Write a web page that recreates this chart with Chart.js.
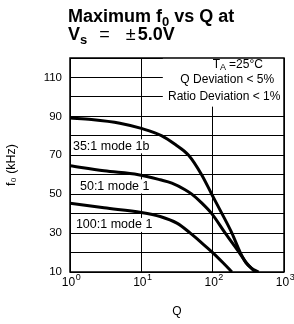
<!DOCTYPE html>
<html>
<head>
<meta charset="utf-8">
<script src="https://cdn.jsdelivr.net/npm/chart.js@4.4.1/dist/chart.umd.min.js"></script>
<style>
  html, body { margin: 0; padding: 0; background: #fff; }
  #wrap { position: relative; width: 294px; height: 324px; }
  .title { position: absolute; left: 68px; font: bold 18px "Liberation Sans", Arial, sans-serif; line-height: 18px; color: #000; white-space: nowrap; }
  .title .sub { font-size: 13px; position: relative; top: 4px; }
  .title .thin { font-weight: normal; display: inline-block; }
</style>
</head>
<body>
<div id="wrap">
  <canvas id="chart" width="294" height="324"></canvas>
  <div class="title" style="top:7px">Maximum f<span class="sub">0</span> vs Q at</div>
  <div class="title" style="top:25px">V<span class="sub">s</span><span class="thin" style="margin-left:12px">=</span><span class="thin" style="margin-left:16px;margin-right:2px">±</span>5.0V</div>
</div>
<script>
// Q values and f0 (kHz)
const q35 = [1, 2, 5, 10, 19.4, 30, 46, 70, 97, 135, 186, 244, 290, 350, 440];
const f35 = [89.2, 88.4, 86.5, 83.8, 80, 75.5, 70, 60, 50, 40, 30, 20, 15, 12, 10];
const q50 = [1, 3, 9.1, 18.4, 26.8, 41, 51, 70, 97, 150, 236, 300, 394];
const f50 = [64.6, 62, 60, 57.4, 55.7, 52.3, 50, 45.5, 40, 30, 20, 14.5, 10];
const q100 = [1, 3, 10, 18.4, 31.5, 48.6, 67, 100, 142, 186];
const f100 = [45.4, 43, 40.6, 38.5, 35.1, 30, 25.6, 20, 14.5, 10];

const qTicks = [1, 10, 100, 1000];
const qExponents = ['0', '1', '2', '3'];
const fLabelled = [10, 30, 50, 70, 90, 110];

// curve labels: [text, Q, f0]
const curveLabels = [
  ['35:1 mode 1b', 1.1, 74.6],
  ['50:1 mode 1', 1.38, 54],
  ['100:1 mode 1', 1.21, 34.2]
];

const FONT = '"Liberation Sans", Arial, sans-serif';

const toPoints = (qs, fs) => qs.map((q, i) => ({ x: q, y: fs[i] }));

const lineStyle = {
  borderColor: '#000',
  borderWidth: 3,
  pointRadius: 0,
  fill: false,
  cubicInterpolationMode: 'monotone'
};

// white note box, text, frame, x tick labels with exponents
const notes = {
  id: 'notes',
  beforeDatasetsDraw(chart) {
    const { ctx, scales: { x, y }, chartArea } = chart;
    ctx.save();
    ctx.fillStyle = '#fff';
    const bx = x.getPixelForValue(20);
    const by = y.getPixelForValue(95);
    ctx.fillRect(bx, chartArea.top, chartArea.right - bx, by - chartArea.top);

    ctx.textBaseline = 'middle';
    ctx.font = '12.5px ' + FONT;
    curveLabels.forEach(([t, q, f]) => {
      const px = x.getPixelForValue(q);
      const py = y.getPixelForValue(f);
      const w = ctx.measureText(t).width;
      ctx.fillStyle = '#fff';
      ctx.fillRect(px - 1, py - 7, w + 2, 14);
      ctx.fillStyle = '#000';
      ctx.textAlign = 'left';
      ctx.fillText(t, px, py);
    });

    // conditions
    ctx.font = '12px ' + FONT;
    const cx = x.getPixelForValue(160);
    ctx.textAlign = 'center';
    ctx.fillText('Q Deviation < 5%', cx, y.getPixelForValue(108.8));
    ctx.fillText('Ratio Deviation < 1%', cx - 3, y.getPixelForValue(100.2));
    // T_A = 25°C
    const ty = y.getPixelForValue(116.6);
    ctx.textAlign = 'left';
    const w1 = ctx.measureText('T').width;
    const w3 = ctx.measureText('=25°C').width;
    ctx.font = '9px ' + FONT;
    const w2 = ctx.measureText('A').width;
    const sx = x.getPixelForValue(225) - (w1 + w2 + w3 + 3) / 2;
    ctx.font = '12px ' + FONT;
    ctx.fillText('T', sx, ty);
    ctx.font = '9px ' + FONT;
    ctx.fillText('A', sx + w1, ty + 3);
    ctx.font = '12px ' + FONT;
    ctx.fillText('=25°C', sx + w1 + w2 + 3, ty);
    ctx.restore();
  },
  afterDraw(chart) {
    const { ctx, chartArea: a, scales: { x } } = chart;
    ctx.save();
    ctx.strokeStyle = '#000';
    ctx.lineWidth = 1.5;
    ctx.strokeRect(a.left, a.top, a.right - a.left, a.bottom - a.top);

    ctx.fillStyle = '#000';
    ctx.textBaseline = 'alphabetic';
    qTicks.forEach((v, i) => {
      ctx.font = '12px ' + FONT;
      const wb = ctx.measureText('10').width;
      ctx.font = '9px ' + FONT;
      const we = ctx.measureText(qExponents[i]).width;
      const sx = x.getPixelForValue(v) - (wb + we) / 2 + 1;
      ctx.font = '12px ' + FONT;
      ctx.textAlign = 'left';
      ctx.fillText('10', sx, a.bottom + 14);
      ctx.font = '9px ' + FONT;
      ctx.fillText(qExponents[i], sx + wb + 0.5, a.bottom + 8);
    });
    ctx.restore();
  }
};

new Chart(document.getElementById('chart'), {
  type: 'line',
  data: {
    datasets: [
      { label: '35:1 mode 1b', data: toPoints(q35, f35), ...lineStyle },
      { label: '50:1 mode 1', data: toPoints(q50, f50), ...lineStyle },
      { label: '100:1 mode 1', data: toPoints(q100, f100), ...lineStyle }
    ]
  },
  options: {
    responsive: false,
    animation: false,
    events: [],
    layout: { padding: { top: 58, right: 10, left: 0, bottom: 0 } },
    plugins: {
      legend: { display: false },
      tooltip: { enabled: false }
    },
    scales: {
      x: {
        type: 'logarithmic',
        min: 1,
        max: 1000,
        afterBuildTicks(scale) {
          scale.ticks = qTicks.map(v => ({ value: v }));
        },
        afterFit(scale) { scale.height = 52; },
        ticks: { display: false },
        grid: { color: '#000', lineWidth: 1, drawTicks: false },
        border: { display: false },
        title: {
          display: true,
          text: 'Q',
          color: '#000',
          font: { family: FONT, size: 12 },
          padding: { top: 0, bottom: 5 }
        }
      },
      y: {
        type: 'linear',
        min: 10,
        max: 120,
        afterFit(scale) { scale.width = 70; },
        ticks: {
          stepSize: 10,
          color: '#000',
          font: { family: FONT, size: 11.5 },
          padding: 8,
          callback: (v) => fLabelled.includes(v) ? String(v) : ''
        },
        grid: { color: '#000', lineWidth: 1, drawTicks: false },
        border: { display: false },
        title: {
          display: true,
          text: 'f₀ (kHz)',
          color: '#000',
          font: { family: FONT, size: 12.5 },
          padding: { top: 4, bottom: 0 }
        }
      }
    }
  },
  plugins: [notes]
});
</script>
</body>
</html>
